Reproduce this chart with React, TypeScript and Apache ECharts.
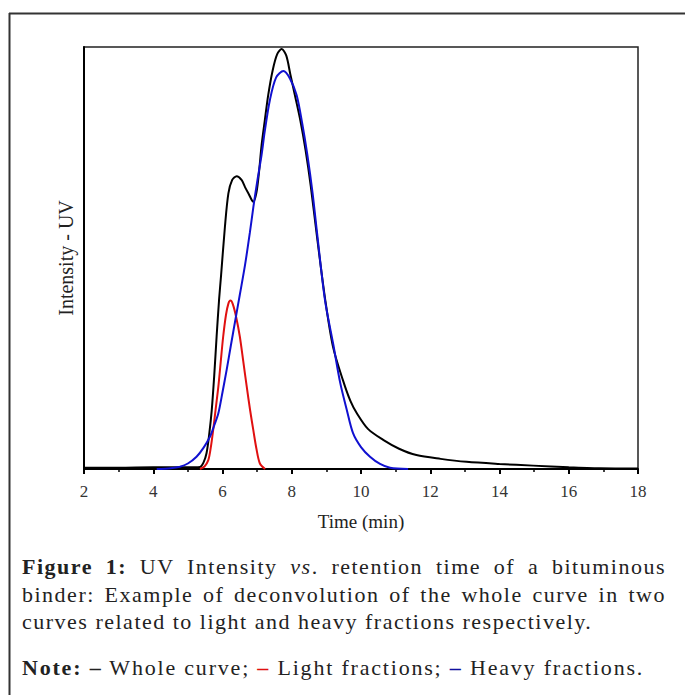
import React, { useEffect, useRef } from "react";
import * as echarts from "echarts";

// Time (min) / intensity readings
const wholeCurve: [number, number][] = [
  [2, 0.3], [3, 0.3], [4, 0.4], [5, 0.4], [5.35, 0.5], [5.45, 1.5], [5.54, 3.8], [5.62, 8.5],
  [5.69, 14], [5.76, 22], [5.83, 31.4], [5.9, 40], [5.96, 46], [6.07, 57.4], [6.17, 65.3],
  [6.28, 68.5], [6.41, 69.4], [6.55, 68.5], [6.65, 66.8], [6.75, 65.3], [6.89, 63.3],
  [6.98, 65.5], [7.05, 70], [7.13, 76.8], [7.22, 82.5], [7.32, 88.6], [7.45, 94.5],
  [7.58, 98.3], [7.71, 99.5], [7.84, 98], [7.96, 93.5], [8.09, 88.6], [8.25, 82.5],
  [8.4, 75.5], [8.55, 67], [8.73, 55], [8.96, 40.5], [9.19, 29], [9.48, 21], [9.7, 16],
  [9.88, 13.2], [10.2, 9.5], [10.64, 6.9], [11.1, 4.8], [11.6, 3.3], [12.3, 2.4],
  [13.05, 1.7], [14.0, 1.2], [14.97, 0.8], [16.0, 0.4], [16.9, 0.15], [18, 0.1],
];
const lightFractions: [number, number][] = [
  [5.35, 0], [5.48, 0.6], [5.59, 2.1], [5.66, 5], [5.73, 9.2], [5.8, 14], [5.88, 19.5],
  [5.95, 25.5], [6.02, 31.4], [6.1, 36.5], [6.17, 39.2], [6.23, 39.9], [6.3, 39], [6.4, 35.8],
  [6.5, 31.4], [6.6, 25.5], [6.7, 19.5], [6.8, 13.8], [6.89, 9.2], [6.98, 4.8], [7.08, 1.3],
  [7.23, 0],
];
const heavyFractions: [number, number][] = [
  [4.1, 0], [4.5, 0.2], [4.77, 0.55], [5.0, 1.3], [5.25, 2.9], [5.45, 5], [5.64, 7.7],
  [5.76, 10.3], [5.88, 13.2], [6.0, 18.2], [6.12, 23.5], [6.24, 29.2], [6.36, 34.8],
  [6.5, 41.3], [6.65, 48.3], [6.79, 56], [6.89, 62], [7.0, 68], [7.13, 74.5], [7.22, 80],
  [7.37, 87.5], [7.55, 92.8], [7.76, 94.3], [7.95, 92.5], [8.14, 88.6], [8.3, 82],
  [8.45, 74.5], [8.6, 65.5], [8.73, 56], [8.96, 40], [9.2, 29.5], [9.4, 20.4], [9.59, 14],
  [9.77, 8.5], [10.0, 5.2], [10.26, 2.9], [10.55, 1.2], [10.84, 0.3], [11.36, 0],
];

const xName = "Time (min)";
const yName = "Intensity - UV";
const FONT = "Liberation Serif";

export default function App() {
  const ref = useRef<HTMLDivElement>(null);
  useEffect(() => {
    if (!ref.current) return;
    const chart = echarts.init(ref.current, undefined, { renderer: "svg" });
    const lineSeries = (name: string, data: [number, number][], color: string) => ({
      name,
      type: "line",
      data,
      showSymbol: false,
      smooth: 0.3,
      lineStyle: { color, width: 2 },
      itemStyle: { color },
      z: 3,
    });
    chart.setOption({
      animation: false,
      backgroundColor: "#fff",
      grid: {
        left: 84, right: 47, top: 47, bottom: 226,
        show: true, borderColor: "#222", borderWidth: 1.5, backgroundColor: "transparent",
      },
      xAxis: {
        type: "value", min: 2, max: 18, interval: 2,
        name: xName, nameLocation: "middle", nameGap: 43,
        nameTextStyle: { fontFamily: FONT, fontSize: 19, color: "#222" },
        axisLine: { show: true, lineStyle: { color: "#000", width: 2 } },
        axisTick: { show: true, inside: false, length: 5, lineStyle: { color: "#000", width: 2 } },
        minorTick: { show: true, splitNumber: 2, length: 3, lineStyle: { color: "#000", width: 1.5 } },
        axisLabel: { fontFamily: FONT, fontSize: 17, color: "#333", margin: 14 },
        splitLine: { show: false },
      },
      yAxis: {
        type: "value", min: 0, max: 100,
        name: yName, nameLocation: "middle", nameGap: 8, nameRotate: 90,
        nameTextStyle: { fontFamily: FONT, fontSize: 20, color: "#222" },
        axisLine: { show: true, lineStyle: { color: "#000", width: 2 } },
        axisTick: { show: false },
        axisLabel: { show: false },
        splitLine: { show: false },
      },
      series: [
        lineSeries("Whole curve", wholeCurve, "#000000"),
        lineSeries("Light fractions", lightFractions, "#e01010"),
        lineSeries("Heavy fractions", heavyFractions, "#1010d0"),
      ],
      graphic: [
        { type: "line", shape: { x1: 9, y1: 13.5, x2: 685, y2: 13.5 }, style: { stroke: "#333", lineWidth: 2 } },
        { type: "line", shape: { x1: 9.5, y1: 13, x2: 9.5, y2: 695 }, style: { stroke: "#333", lineWidth: 2 } },
      ],
    });
    return () => chart.dispose();
  }, []);

  const capStyle: React.CSSProperties = {
    position: "absolute", left: 22, width: 644, fontFamily: "'Liberation Serif', serif", fontSize: 22,
    letterSpacing: "1.5px", color: "#222", lineHeight: "28px", whiteSpace: "nowrap",
  };
  const just: React.CSSProperties = { ...capStyle, textAlign: "justify", textAlignLast: "justify", whiteSpace: "normal" };
  const dash: React.CSSProperties = { fontWeight: 700 };

  return (
    <div style={{ position: "absolute", left: 0, top: 0, width: 685, height: 695, background: "#fff", overflow: "hidden" }}>
      <div ref={ref} style={{ position: "absolute", left: 0, top: 0, width: 685, height: 695 }} />
      <div style={{ ...just, top: 553 }}>
        <b>Figure 1:</b> UV Intensity <i>vs</i>. retention time of a bituminous
      </div>
      <div style={{ ...just, top: 581 }}>
        binder: Example of deconvolution of the whole curve in two
      </div>
      <div style={{ ...capStyle, top: 608 }}>
        curves related to light and heavy fractions respectively.
      </div>
      <div style={{ ...capStyle, top: 654, letterSpacing: "1.8px" }}>
        <b>Note:</b> <span style={dash}>–</span> Whole curve; <span style={{ ...dash, color: "#e01010" }}>–</span> Light fractions;{" "}
        <span style={{ ...dash, color: "#1010a0" }}>–</span> Heavy fractions.
      </div>
    </div>
  );
}
